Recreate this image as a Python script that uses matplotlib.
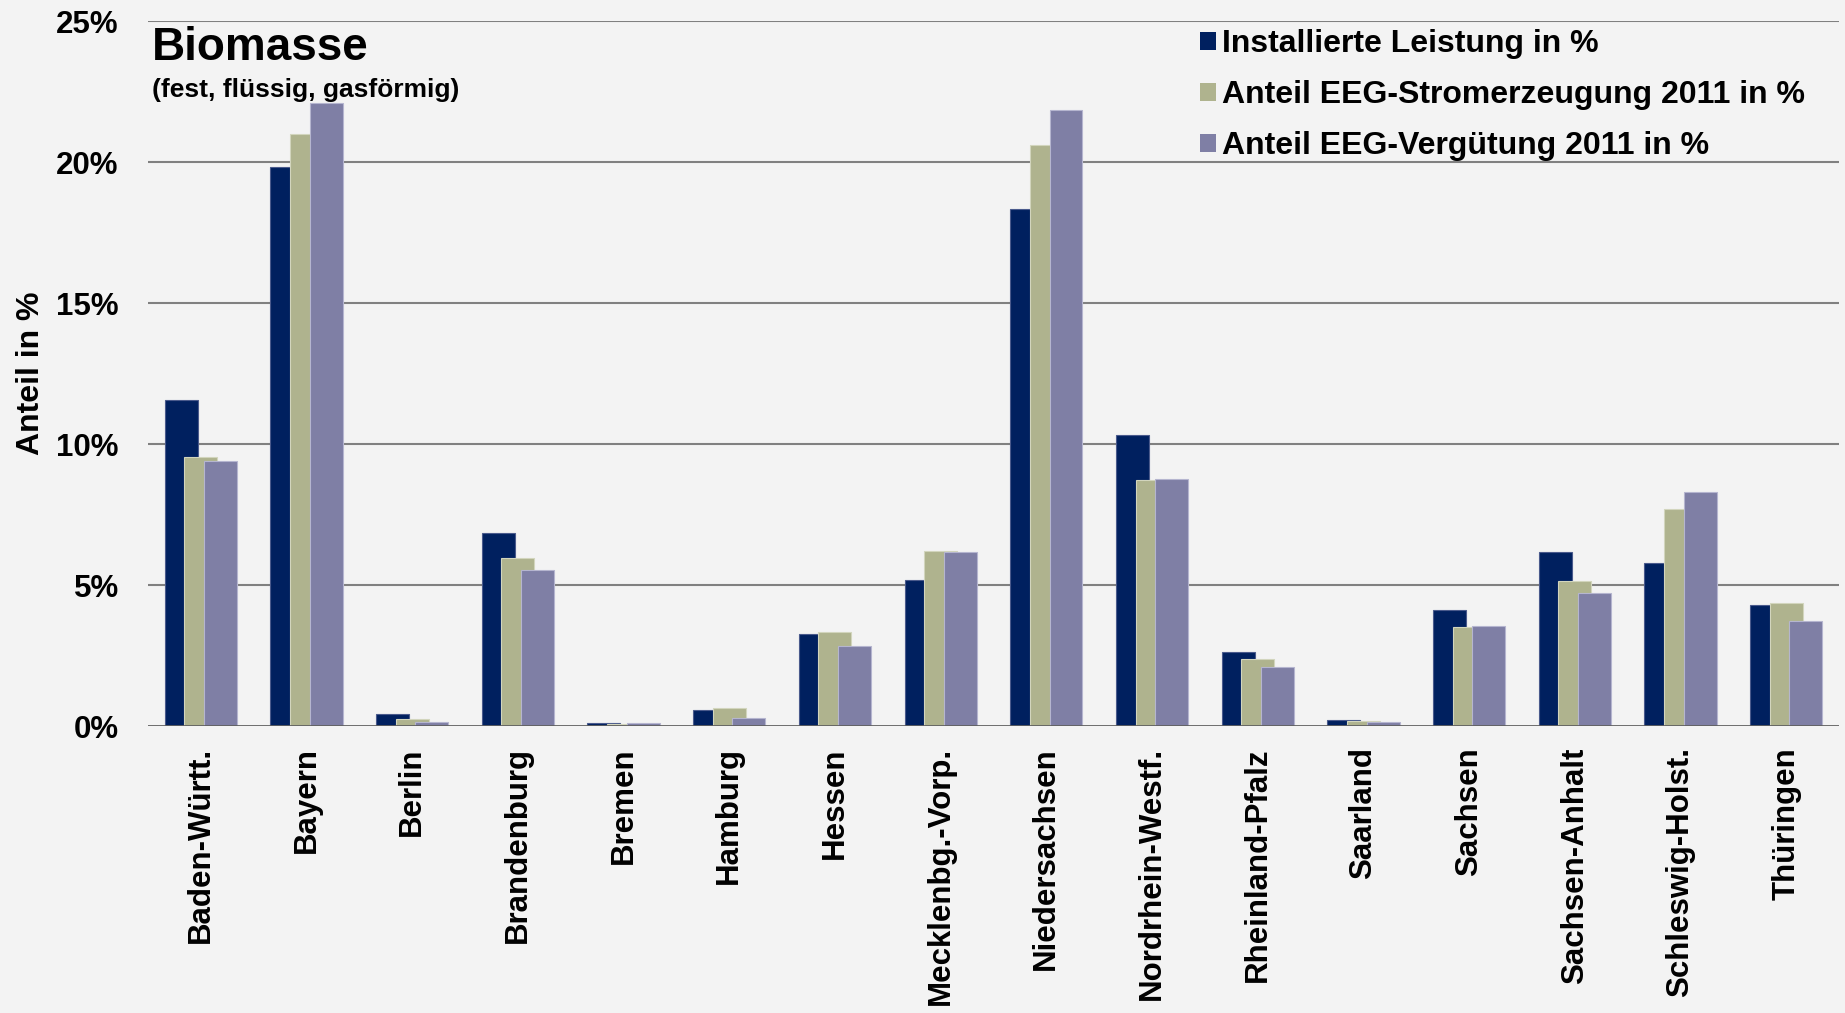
import numpy as np
import matplotlib.pyplot as plt
from matplotlib.ticker import FuncFormatter

plt.rcParams['font.family'] = ['Liberation Sans', 'DejaVu Sans']
plt.rcParams['font.weight'] = 'bold'

# Daten
laender = ['Baden-Württ.', 'Bayern', 'Berlin', 'Brandenburg', 'Bremen', 'Hamburg',
           'Hessen', 'Mecklenbg.-Vorp.', 'Niedersachsen', 'Nordrhein-Westf.',
           'Rheinland-Pfalz', 'Saarland', 'Sachsen', 'Sachsen-Anhalt',
           'Schleswig-Holst.', 'Thüringen']
leistung = [11.58, 19.82, 0.43, 6.84, 0.12, 0.59, 3.26, 5.19, 18.35, 10.34,
            2.62, 0.21, 4.14, 6.18, 5.80, 4.30]
stromerzeugung = [9.55, 21.0, 0.27, 5.96, 0.08, 0.64, 3.33, 6.23, 20.59, 8.72,
                  2.37, 0.18, 3.52, 5.16, 7.72, 4.36]
verguetung = [9.40, 22.10, 0.14, 5.54, 0.10, 0.31, 2.86, 6.19, 21.83, 8.76,
              2.09, 0.14, 3.54, 4.72, 8.29, 3.75]
serien = ['Installierte Leistung in %', 'Anteil EEG-Stromerzeugung 2011 in %',
          'Anteil EEG-Vergütung 2011 in %']
yticks = [0, 5, 10, 15, 20, 25]

farben = ['#00205f', '#afb38e', '#7f7fa5']
kanten = ['#4a5a8c', '#d2d5bd', '#b5b5cf']
bg = '#f3f3f3'

fig = plt.figure(figsize=(18.45, 10.13), dpi=100, facecolor=bg)
ax = fig.add_axes([148/1845, 1 - 726.3/1013, 1691/1845, 705.3/1013], facecolor=bg)

x = np.arange(len(laender))
breite = 0.312
schritt = 0.186
for i, (werte, name) in enumerate(zip([leistung, stromerzeugung, verguetung], serien)):
    ax.bar(x + (i - 1) * schritt, werte, width=breite, color=farben[i],
           edgecolor=kanten[i], linewidth=0.8, label=name, zorder=3 + i)

ax.set_xlim(-0.5, len(laender) - 0.5)
ax.set_ylim(0, 25)
ax.set_yticks(yticks)
ax.yaxis.set_major_formatter(FuncFormatter(lambda v, p: f'{v:.0f}%'))
for y in yticks[1:]:
    ax.axhline(y, color='#808080', linewidth=1.5, zorder=1)
ax.axhline(0, color='#606060', linewidth=2, zorder=10)

for s in ax.spines.values():
    s.set_visible(False)
ax.tick_params(axis='y', length=0, pad=21, labelsize=22.5)
ax.tick_params(axis='x', length=0, pad=15, labelsize=22.5)
ax.set_xticks(x)
ax.set_xticklabels(laender, rotation=90, va='top', ha='center')

ax.set_ylabel('Anteil in %', fontsize=23, fontweight='bold', va='center')
ax.yaxis.set_label_coords(-0.069, 0.5)

# Titel
fig.text(152/1845, 1 - 60/1013, 'Biomasse', fontsize=33, fontweight='bold', va='baseline')
fig.text(152/1845, 1 - 97/1013, '(fest, flüssig, gasförmig)', fontsize=19,
         fontweight='bold', va='baseline')

leg = ax.legend(loc='upper left', bbox_to_anchor=(1200/1845, 1 - 29/1013),
                bbox_transform=fig.transFigure, frameon=False, fontsize=23,
                handlelength=0.5, handleheight=0.5, handletextpad=0.19,
                labelspacing=0.66, borderpad=0, borderaxespad=0)
for h in leg.legend_handles:
    h.set_edgecolor('none')

fig.savefig('out.png', dpi=100, facecolor=bg)
